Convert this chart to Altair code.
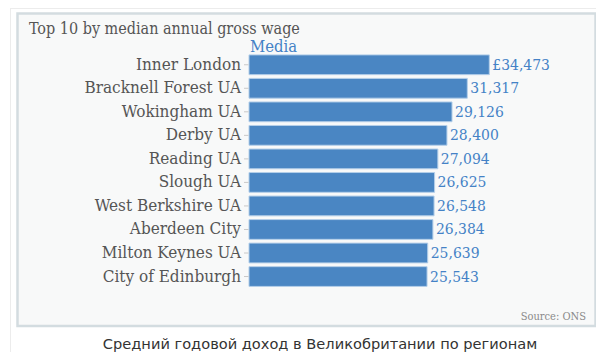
import altair as alt
import pandas as pd

regions = ["Inner London", "Bracknell Forest UA", "Wokingham UA", "Derby UA",
           "Reading UA", "Slough UA", "West Berkshire UA", "Aberdeen City",
           "Milton Keynes UA", "City of Edinburgh"]
wages = [34473, 31317, 29126, 28400, 27094, 26625, 26548, 26384, 25639, 25543]
value_labels = ["£34,473", "31,317", "29,126", "28,400", "27,094", "26,625",
                "26,548", "26,384", "25,639", "25,543"]

title_text = "Top 10 by median annual gross wage"
header_text = "Media"
source_text = "Source: ONS"
caption_text = "Средний годовой доход в Великобритании по регионам"

df = pd.DataFrame({"region": regions, "wage": wages, "label": value_labels})

SERIF = "DejaVu Serif Condensed, DejaVu Serif"
BLUE = "#4a86c3"
TXT_BLUE = "#4482c6"
GREY_TXT = "#555555"

x_scale = alt.Scale(domain=[0, 34473], range=[241, 481.3], nice=False, zero=True)
y_scale = alt.Scale(domain=regions, range=[45, 280.3], paddingInner=0.16, paddingOuter=0.08)

one = pd.DataFrame({"k": [0]})

page_lines = alt.Chart(one).mark_rule(color="#ececec", strokeWidth=1).encode(
    x=alt.value(2.5), y=alt.value(0), y2=alt.value(344)
) + alt.Chart(one).mark_rule(color="#ececec", strokeWidth=1).encode(
    x=alt.value(2.5), x2=alt.value(588), y=alt.value(0.5)
)

box = alt.Chart(one).mark_rect(fill="#f8f9f9", stroke="#d3dce0", strokeWidth=2.5).encode(
    x=alt.value(9.5), x2=alt.value(587.5), y=alt.value(5.5), y2=alt.value(318)
)

bars = alt.Chart(df).mark_bar(color=BLUE, stroke="#b4cfe9", strokeWidth=1).encode(
    x=alt.X("wage:Q", scale=x_scale, axis=None),
    y=alt.Y("region:N", scale=y_scale, axis=None, sort=regions),
)

ticks = alt.Chart(df).mark_rule(color="#c8c8c8", strokeWidth=1).encode(
    x=alt.value(236), x2=alt.value(240.5),
    y=alt.Y("region:N", scale=y_scale, axis=None, sort=regions),
)

region_labels = alt.Chart(df).mark_text(
    align="right", baseline="middle", font=SERIF, fontSize=17, color=GREY_TXT
).encode(
    x=alt.value(233),
    y=alt.Y("region:N", scale=y_scale, axis=None, sort=regions),
    text="region:N",
)

val_labels = alt.Chart(df).mark_text(
    align="left", baseline="middle", font=SERIF, fontSize=15.5, color=TXT_BLUE, dx=3
).encode(
    x=alt.X("wage:Q", scale=x_scale, axis=None),
    y=alt.Y("region:N", scale=y_scale, axis=None, sort=regions),
    text="label:N",
)

header = alt.Chart(one).mark_text(
    align="left", baseline="alphabetic", font=SERIF, fontSize=16.5, color=TXT_BLUE
).encode(x=alt.value(242), y=alt.value(43.5), text=alt.value(header_text))

title = alt.Chart(one).mark_text(
    align="left", baseline="alphabetic", font=SERIF, fontSize=16, color=GREY_TXT
).encode(x=alt.value(21), y=alt.value(25.5), text=alt.value(title_text))

source = alt.Chart(one).mark_text(
    align="right", baseline="middle", font=SERIF, fontSize=11, color="#8a8a8a"
).encode(x=alt.value(578), y=alt.value(309), text=alt.value(source_text))

caption = alt.Chart(one).mark_text(
    align="center", baseline="middle", font="DejaVu Sans", fontSize=14.6, color="#333333"
).encode(x=alt.value(312), y=alt.value(336.5), text=alt.value(caption_text))

chart = alt.layer(
    page_lines, box, bars, ticks, region_labels, val_labels, header, title, source, caption
).properties(
    width=588, height=344,
    autosize=alt.AutoSizeParams(type="none"),
    padding=0,
    background="white",
).configure_view(stroke=None)

chart.save("out.html", embed_options={"renderer": "svg", "actions": False})
